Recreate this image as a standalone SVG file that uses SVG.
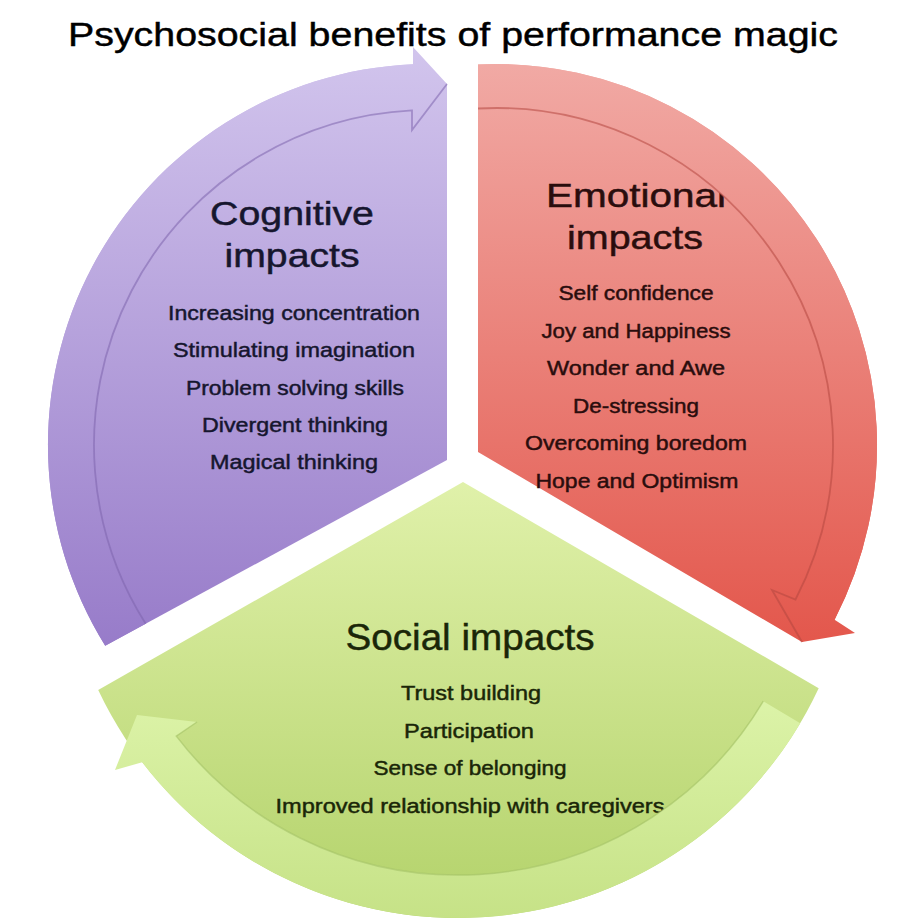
<svg xmlns="http://www.w3.org/2000/svg" width="913" height="923" viewBox="0 0 913 923">
<style>
text{font-family:"Liberation Sans",Arial,sans-serif;text-anchor:middle;stroke-width:0.45px}
.title{font-size:34px;fill:#000;stroke:#000}
.head{font-size:33px}
.shead{font-size:37px}
.body{font-size:20px}
.cog{fill:#16162e;stroke:#16162e}
.emo{fill:#2a0d0d;stroke:#2a0d0d}
.soc{fill:#1a2608;stroke:#1a2608}
.pline{fill:none;stroke:#7e65ad;stroke-width:1.8;stroke-opacity:.55}
.rline{fill:none;stroke:#b5473f;stroke-width:1.8;stroke-opacity:.55}
.gline{fill:none;stroke:#a3c265;stroke-width:1.5;stroke-opacity:.6}
</style>
<defs>
<linearGradient id="pg" gradientUnits="userSpaceOnUse" x1="0" y1="47" x2="0" y2="650">
<stop offset="0" stop-color="#d2c5ed"/><stop offset="1" stop-color="#977bc9"/>
</linearGradient>
<linearGradient id="rg" gradientUnits="userSpaceOnUse" x1="0" y1="60" x2="0" y2="650">
<stop offset="0" stop-color="#f1aaa5"/><stop offset="1" stop-color="#e3564b"/>
</linearGradient>
<linearGradient id="gg" gradientUnits="userSpaceOnUse" x1="0" y1="480" x2="0" y2="918">
<stop offset="0" stop-color="#e0f1aa"/><stop offset="1" stop-color="#b3d26a"/>
</linearGradient>
<linearGradient id="gb" gradientUnits="userSpaceOnUse" x1="0" y1="700" x2="0" y2="918">
<stop offset="0" stop-color="#dcf3a8"/><stop offset="1" stop-color="#c6e287"/>
</linearGradient>
</defs>
<rect width="913" height="923" fill="#fff"/>

<g id="cognitive">
<path d="M447,460 L447,84 L413,64.3 A381,381 0 0 0 105.2,645.8 Z" fill="url(#pg)"/>
<text class="head cog" x="292" y="225" textLength="164" lengthAdjust="spacingAndGlyphs">Cognitive</text>
<text class="head cog" x="292" y="267" textLength="135" lengthAdjust="spacingAndGlyphs">impacts</text>
<text class="body cog" x="294" y="320" textLength="252" lengthAdjust="spacingAndGlyphs">Increasing concentration</text>
<text class="body cog" x="294" y="357" textLength="242" lengthAdjust="spacingAndGlyphs">Stimulating imagination</text>
<text class="body cog" x="295" y="395" textLength="218" lengthAdjust="spacingAndGlyphs">Problem solving skills</text>
<text class="body cog" x="295" y="432" textLength="186" lengthAdjust="spacingAndGlyphs">Divergent thinking</text>
<text class="body cog" x="294" y="469" textLength="168" lengthAdjust="spacingAndGlyphs">Magical thinking</text>
<path d="M413,47 L447,84 L412,130 L412,110.4 A335,335 0 0 0 145.7,623.8 L105.2,645.8 A381,381 0 0 1 413,64.3 Z" fill="url(#pg)"/>
<path class="pline" d="M145.7,623.8 A335,335 0 0 1 412,110.4 L412,130 L447,84"/>
</g>

<g id="emotional">
<path d="M478,452 L478,64.4 A381,381 0 0 1 834.6,619.7 L802,642 Z" fill="url(#rg)"/>
<text class="head emo" x="636" y="207" textLength="180" lengthAdjust="spacingAndGlyphs">Emotional</text>
<text class="head emo" x="635" y="249" textLength="136" lengthAdjust="spacingAndGlyphs">impacts</text>
<text class="body emo" x="636" y="300" textLength="155" lengthAdjust="spacingAndGlyphs">Self confidence</text>
<text class="body emo" x="636" y="338" textLength="189" lengthAdjust="spacingAndGlyphs">Joy and Happiness</text>
<text class="body emo" x="636" y="375" textLength="178" lengthAdjust="spacingAndGlyphs">Wonder and Awe</text>
<text class="body emo" x="636" y="413" textLength="126" lengthAdjust="spacingAndGlyphs">De-stressing</text>
<text class="body emo" x="636" y="450" textLength="222" lengthAdjust="spacingAndGlyphs">Overcoming boredom</text>
<text class="body emo" x="637" y="488" textLength="203" lengthAdjust="spacingAndGlyphs">Hope and Optimism</text>
<path d="M478,64.4 A381,381 0 0 1 834.6,619.7 L855,633 L802,642 L772,590 L795.5,599.5 A337,337 0 0 0 478,108.5 Z" fill="url(#rg)"/>
<path class="rline" d="M478,108.5 A337,337 0 0 1 795.5,599.5 L772,590 L802,642"/>
</g>

<g id="social">
<path d="M463,482 L818.7,688.2 A398,398 0 0 1 98.2,690.1 Z" fill="url(#gg)"/>
<text class="shead soc" x="470" y="650" textLength="249" lengthAdjust="spacingAndGlyphs">Social impacts</text>
<text class="body soc" x="471" y="700" textLength="140" lengthAdjust="spacingAndGlyphs">Trust building</text>
<text class="body soc" x="469" y="738" textLength="130" lengthAdjust="spacingAndGlyphs">Participation</text>
<text class="body soc" x="470" y="775" textLength="193" lengthAdjust="spacingAndGlyphs">Sense of belonging</text>
<text class="body soc" x="470" y="813" textLength="389" lengthAdjust="spacingAndGlyphs">Improved relationship with caregivers</text>
<path d="M800.2,723.2 A398,398 0 0 1 142.2,762.3 L115,770 L137,715 L197,722 L176.3,736.1 A355,355 0 0 0 763.3,701.2 Z" fill="url(#gb)"/>
<path class="gline" d="M763.3,701.2 A355,355 0 0 1 176.3,736.1 L197,722"/>
</g>

<g id="connectors"></g>

<g id="title">
<text class="title" x="453" y="46" textLength="770" lengthAdjust="spacingAndGlyphs">Psychosocial benefits of performance magic</text>
</g>
</svg>
